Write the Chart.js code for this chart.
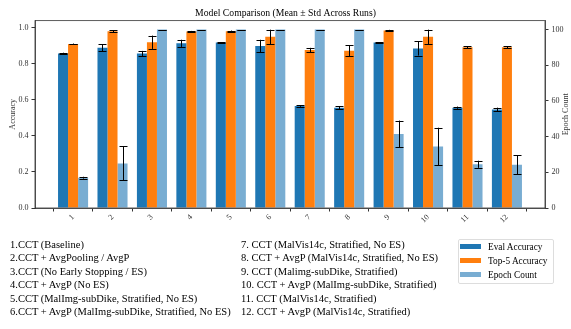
<!DOCTYPE html>
<html>
<head>
<meta charset="utf-8">
<script src="https://cdn.jsdelivr.net/npm/chart.js@4"></script>
<style>
  html, body { margin: 0; padding: 0; background: #fff; }
  #wrap { position: relative; width: 571px; height: 329px; overflow: hidden; }
  #chart { position: absolute; left: 0; top: 0; }
  .notes { position: absolute; font-family: "Liberation Serif", serif; font-size: 10.5px; color: #000; line-height: 13.4px; white-space: nowrap; }
  #legend { position: absolute; left: 458px; top: 239px; width: 94px; height: 43px; border: 1px solid #ddd; border-radius: 2px; font-family: "Liberation Serif", serif; font-size: 9.3px; color: #000; }
  .item { position: absolute; left: 1px; height: 10px; line-height: 10px; white-space: nowrap; }
  .sw { display: inline-block; width: 21px; height: 5px; vertical-align: middle; margin-right: 7px; position: relative; top: -1px; }
</style>
</head>
<body>
<div id="wrap">
  <canvas id="chart" width="571" height="329"></canvas>
  <div class="notes" id="col1" style="left:10px; top:238px;"></div>
  <div class="notes" id="col2" style="left:241px; top:238px;"></div>
  <div id="legend"></div>
</div>
<script>
  const labels = ['1', '2', '3', '4', '5', '6', '7', '8', '9', '10', '11', '12'];

  const evalAcc = [0.858, 0.890, 0.858, 0.914, 0.918, 0.899, 0.566, 0.557, 0.918, 0.886, 0.557, 0.547];
  const evalStd = [0.004, 0.020, 0.014, 0.020, 0.003, 0.035, 0.004, 0.008, 0.003, 0.040, 0.006, 0.010];

  const top5Acc = [0.911, 0.981, 0.920, 0.980, 0.981, 0.950, 0.877, 0.873, 0.985, 0.950, 0.892, 0.892];
  const top5Std = [0.002, 0.006, 0.037, 0.003, 0.004, 0.040, 0.012, 0.030, 0.004, 0.040, 0.005, 0.005];

  const epochCount = [17, 25, 100, 100, 100, 100, 100, 100, 41.5, 34.5, 24.5, 24.2];
  const epochStd = [0.5, 9.5, 0, 0, 0, 0, 0, 0, 7.5, 10.5, 2, 5.3];

  const modelNames = [
    '1.CCT (Baseline)',
    '2.CCT + AvgPooling / AvgP',
    '3.CCT (No Early Stopping / ES)',
    '4.CCT + AvgP (No ES)',
    '5.CCT (MalImg-subDike, Stratified, No ES)',
    '6.CCT + AvgP (MalImg-subDike, Stratified, No ES)',
    '7. CCT (MalVis14c, Stratified, No ES)',
    '8. CCT + AvgP (MalVis14c, Stratified, No ES)',
    '9. CCT (Malimg-subDike, Stratified)',
    '10. CCT + AvgP (MalImg-subDike, Stratified)',
    '11. CCT (MalVis14c, Stratified)',
    '12. CCT + AvgP (MalVis14c, Stratified)'
  ];

  const blue = '#1f77b4';
  const orange = '#ff7f0e';
  const lightBlue = 'rgba(31,119,180,0.6)';
  const serif = 'Liberation Serif';

  document.getElementById('col1').innerHTML = modelNames.slice(0, 6).join('<br>');
  document.getElementById('col2').innerHTML = modelNames.slice(6).join('<br>');

  const legendItems = [['Eval Accuracy', blue], ['Top-5 Accuracy', orange], ['Epoch Count', lightBlue]];
  document.getElementById('legend').innerHTML = legendItems.map((it, i) =>
    '<div class="item" style="top:' + (2 + i * 13.8) + 'px"><span class="sw" style="background:' + it[1] + '"></span>' + it[0] + '</div>'
  ).join('');

  const xs = labels.map((l, i) => i + 1);
  const pts = arr => arr.map((v, i) => ({ x: xs[i], y: v }));

  // error bars, frame and the two axis titles
  const errorBars = {
    id: 'errorBars',
    afterDatasetsDraw(chart) {
      const ctx = chart.ctx;
      ctx.save();
      ctx.strokeStyle = '#000';
      ctx.lineWidth = 1;
      chart.data.datasets.forEach((ds, di) => {
        const meta = chart.getDatasetMeta(di);
        const scale = chart.scales[ds.yAxisID];
        meta.data.forEach((bar, i) => {
          const v = ds.data[i].y, e = ds.errors[i];
          const yTop = scale.getPixelForValue(v + e);
          const yBot = scale.getPixelForValue(v - e);
          const x = Math.round(bar.x) + 0.5;
          ctx.beginPath();
          ctx.moveTo(x, yTop); ctx.lineTo(x, yBot);
          ctx.moveTo(x - 4, Math.round(yTop) + 0.5); ctx.lineTo(x + 4, Math.round(yTop) + 0.5);
          ctx.moveTo(x - 4, Math.round(yBot) + 0.5); ctx.lineTo(x + 4, Math.round(yBot) + 0.5);
          ctx.stroke();
        });
      });
      const a = chart.chartArea;
      ctx.strokeStyle = '#333';
      ctx.lineWidth = 0.8;
      ctx.strokeRect(a.left, a.top, a.right - a.left, a.bottom - a.top);

      ctx.fillStyle = '#333';
      ctx.font = '8px "Liberation Serif"';
      ctx.textAlign = 'center';
      ctx.textBaseline = 'middle';
      const midY = (a.top + a.bottom) / 2;
      [['Accuracy', 13], ['Epoch Count', 566]].forEach(([t, x]) => {
        ctx.save();
        ctx.translate(x, midY);
        ctx.rotate(-Math.PI / 2);
        ctx.fillText(t, 0, 0);
        ctx.restore();
      });
      ctx.restore();
    }
  };

  new Chart(document.getElementById('chart'), {
    type: 'bar',
    data: {
      datasets: [
        { label: 'Eval Accuracy', data: pts(evalAcc), errors: evalStd, backgroundColor: blue, yAxisID: 'y' },
        { label: 'Top-5 Accuracy', data: pts(top5Acc), errors: top5Std, backgroundColor: orange, yAxisID: 'y' },
        { label: 'Epoch Count', data: pts(epochCount), errors: epochStd, backgroundColor: lightBlue, yAxisID: 'y1' }
      ]
    },
    options: {
      responsive: false,
      animation: false,
      categoryPercentage: 0.762,
      barPercentage: 1,
      scales: {
        x: {
          type: 'linear',
          offset: false,
          min: 0.035,
          max: 12.965,
          afterBuildTicks: s => { s.ticks = xs.map(v => ({ value: v })); },
          afterFit: s => { s.height = 121; },
          grid: { drawOnChartArea: false, drawTicks: true, tickLength: 3.5, color: '#333' },
          border: { color: '#333', width: 0.8 },
          ticks: {
            callback: v => labels[v - 1],
            minRotation: 45, maxRotation: 45,
            padding: 1,
            color: '#333',
            font: { family: serif, size: 8 }
          }
        },
        y: {
          position: 'left',
          min: 0, max: 1.04,
          afterFit: s => { s.width = 35; },
          grid: { drawOnChartArea: false, drawTicks: true, tickLength: 3.5, color: '#333' },
          border: { color: '#333', width: 0.8 },
          ticks: { stepSize: 0.2, includeBounds: false, callback: v => v.toFixed(1), padding: 3, color: '#333', font: { family: serif, size: 8 } }
        },
        y1: {
          position: 'right',
          min: 0, max: 105,
          afterFit: s => { s.width = 26; },
          grid: { drawOnChartArea: false, drawTicks: true, tickLength: 3.5, color: '#333' },
          border: { color: '#333', width: 0.8 },
          ticks: { stepSize: 20, includeBounds: false, padding: 3, color: '#333', font: { family: serif, size: 8 } }
        }
      },
      plugins: {
        legend: { display: false },
        tooltip: { enabled: false },
        title: {
          display: true,
          text: 'Model Comparison (Mean \u00b1 Std Across Runs)',
          color: '#000',
          font: { family: serif, size: 9.7, weight: 'normal' },
          padding: { top: 8, bottom: 1 }
        }
      }
    },
    plugins: [errorBars]
  });
</script>
</body>
</html>
